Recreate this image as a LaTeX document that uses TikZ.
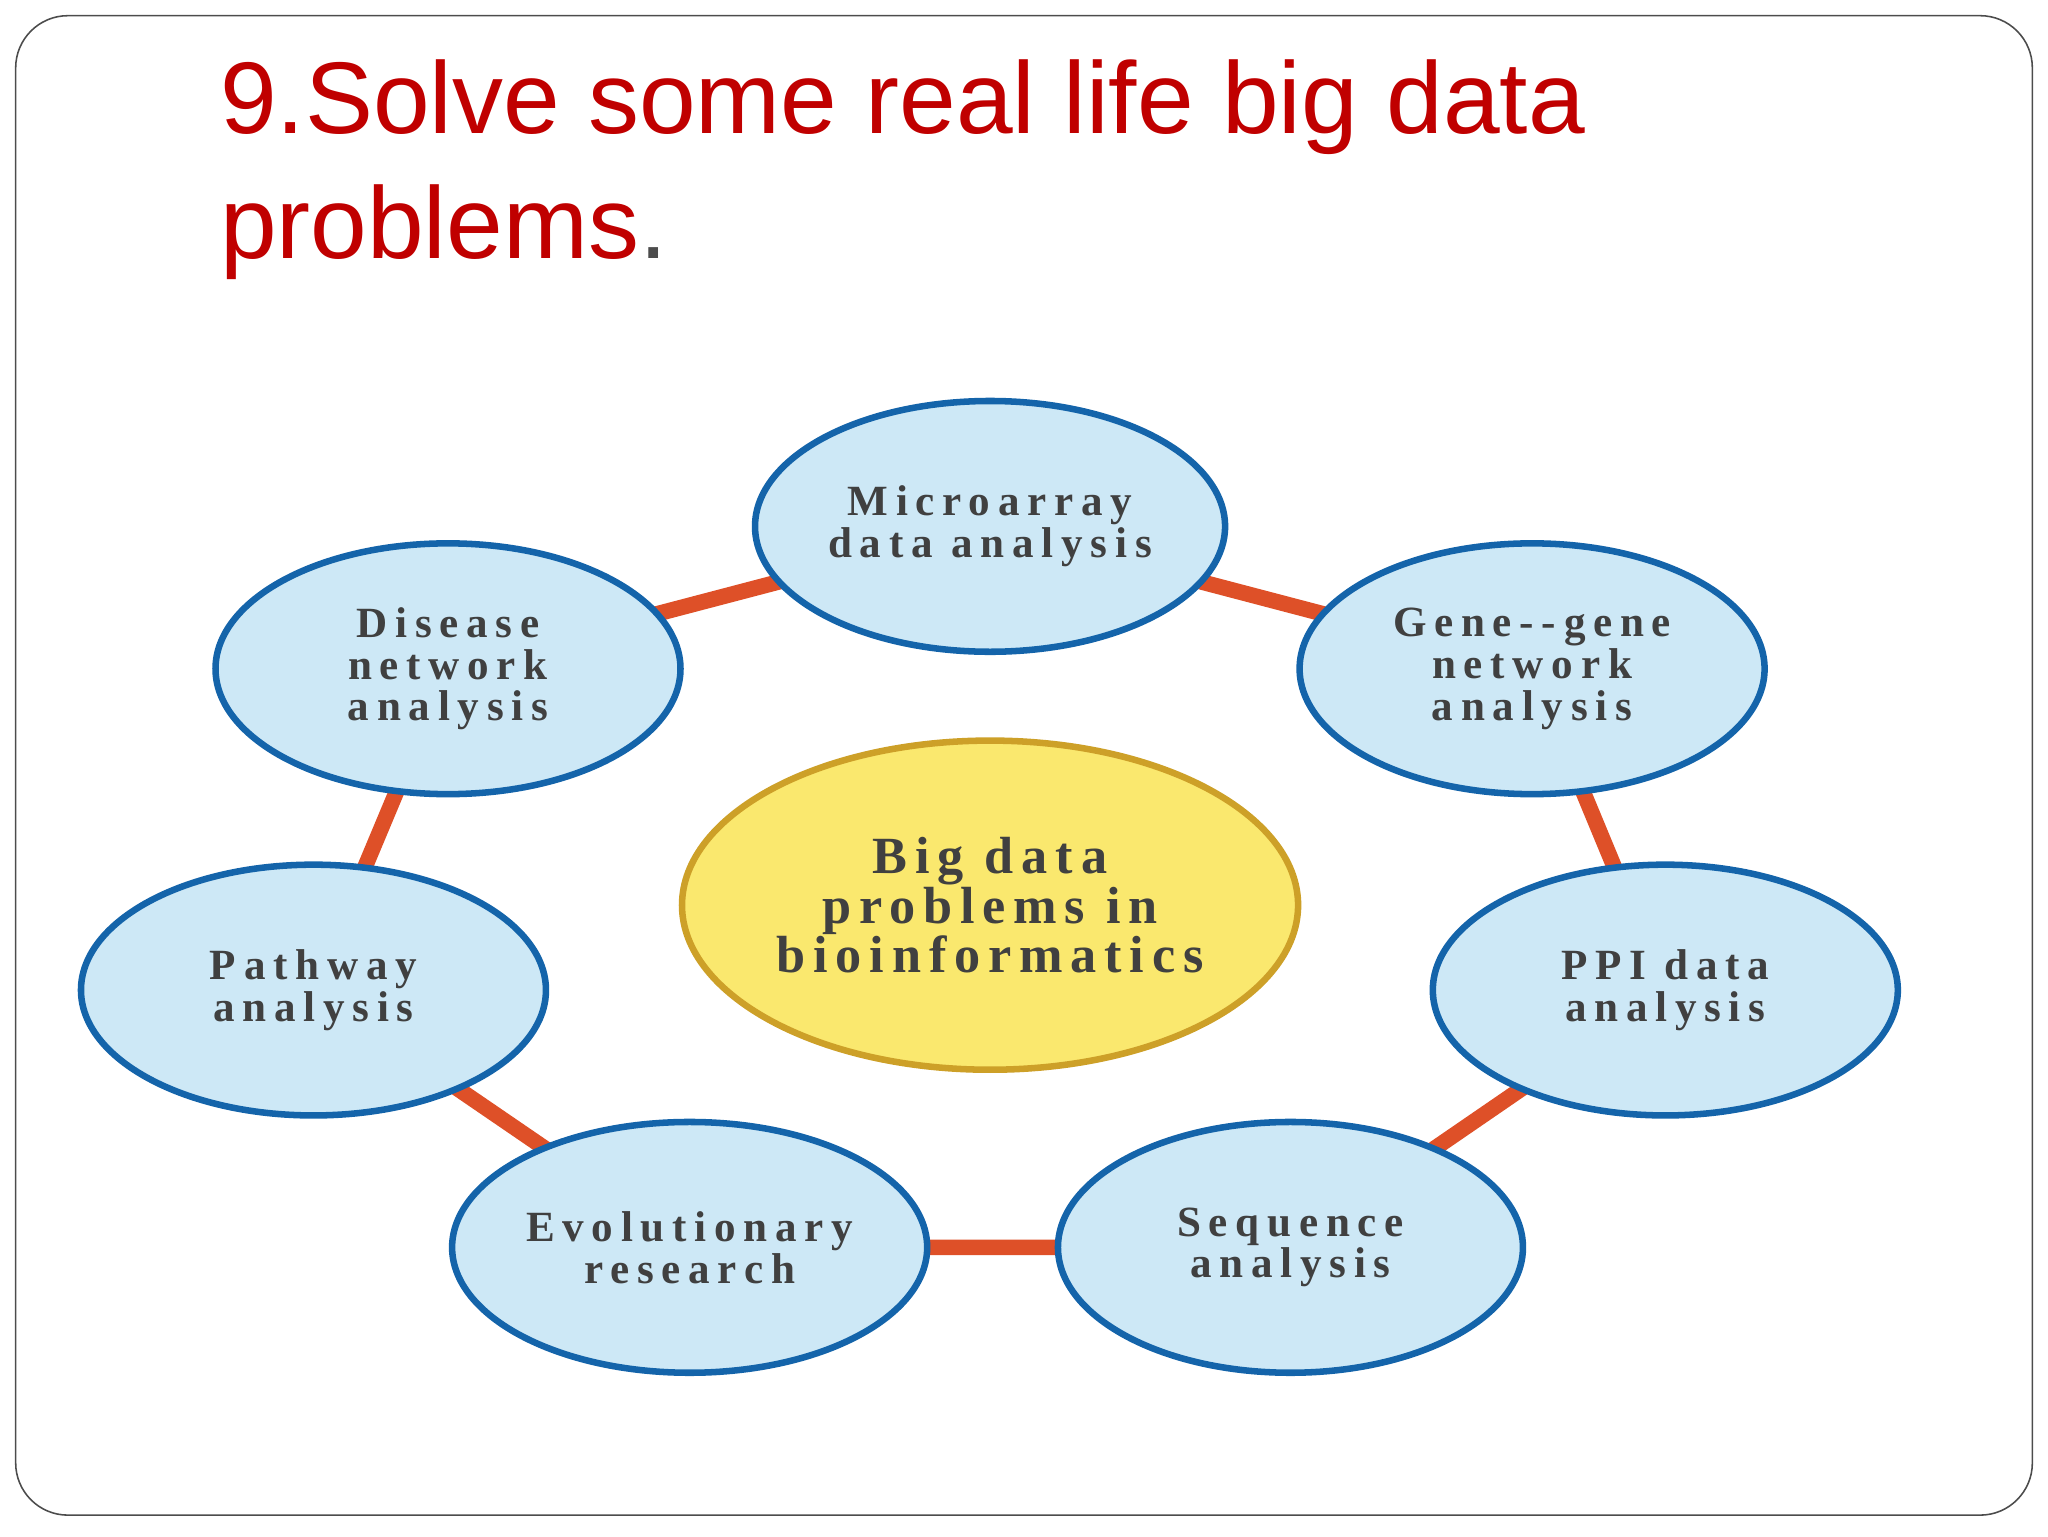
\documentclass[tikz,border=0pt]{standalone}
\usepackage{fontspec}
\setmainfont{Liberation Serif}
\newfontfamily\titlefont{Liberation Sans}
\newfontfamily\bubfont[LetterSpace=18]{Liberation Serif}
\newfontfamily\ctrfont[LetterSpace=15]{Liberation Serif}
\usetikzlibrary{shapes.geometric,backgrounds}
\definecolor{ttl}{RGB}{192,0,0}
\definecolor{ring}{RGB}{222,80,40}
\definecolor{cfill}{RGB}{205,232,246}
\definecolor{cdraw}{RGB}{20,100,170}
\definecolor{yfill}{RGB}{250,232,110}
\definecolor{ydraw}{RGB}{205,160,40}
\tikzset{
 bub/.style={ellipse,draw=cdraw,line width=5pt,fill=cfill,minimum width=356pt,minimum height=192pt,align=center,font=\bubfont\fontsize{33}{32}\selectfont\bfseries,text=black!75},
 link/.style={draw=ring,line width=12pt}
}
\begin{document}
\begin{tikzpicture}[x=1pt,y=-1pt]
\useasboundingbox (0,0) rectangle (1568,1176);
\draw[black!70,line width=1.2pt,rounded corners=40pt] (12,12) rectangle (1556,1160);
\node[anchor=north west,align=left,text=ttl,font=\titlefont\fontsize{78}{96}\selectfont] (title) at (165,42) {9.Solve some real life big data\\problems\textcolor{black!70}{.}};
\node[bub] (mic) at (758,403) {Microarray\\data analysis};
\node[bub] (dis) at (343,512) {Disease\\network\\analysis};
\node[bub] (gen) at (1173,512) {Gene--gene\\network\\analysis};
\node[bub] (pat) at (240,758) {Pathway\\analysis};
\node[bub] (ppi) at (1275,758) {PPI data\\analysis};
\node[bub] (evo) at (528,955) {Evolutionary\\research};
\node[bub] (seq) at (988,955) {Sequence\\analysis};
\node[ellipse,draw=ydraw,line width=5pt,fill=yfill,minimum width=470pt,minimum height=252pt,align=center,font=\ctrfont\fontsize{40}{38}\selectfont\bfseries,text=black!75] (ctr) at (758,693) {Big data\\problems in\\bioinformatics};
\begin{scope}[on background layer]
\draw[link] (mic.center) -- (gen.center) -- (ppi.center) -- (seq.center) -- (evo.center) -- (pat.center) -- (dis.center) -- (mic.center);
\end{scope}
\end{tikzpicture}
\end{document}
